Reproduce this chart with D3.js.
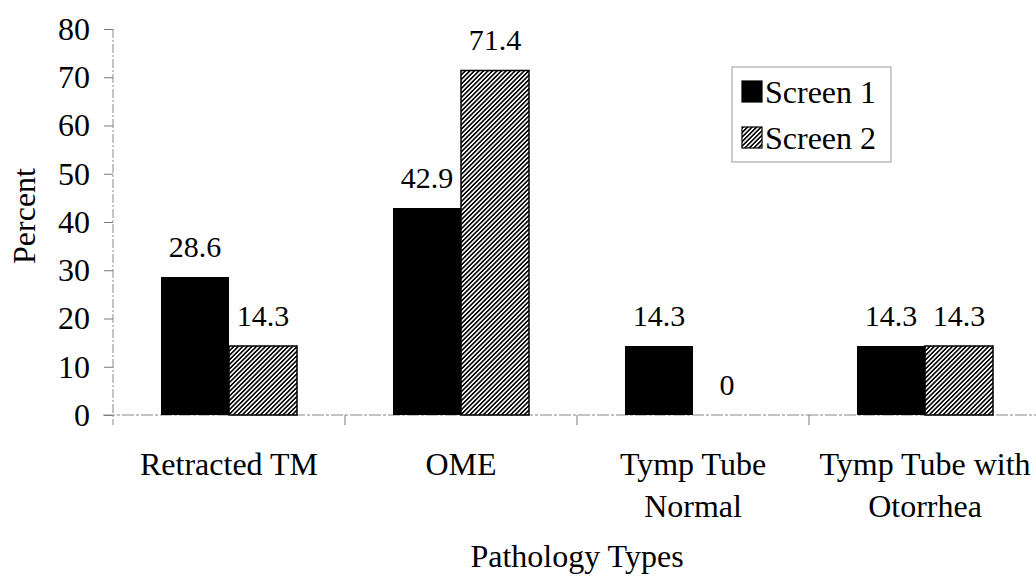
<!DOCTYPE html>
<html>
<head>
<meta charset="utf-8">
<script src="https://cdn.jsdelivr.net/npm/d3@7"></script>
<style>
  html, body { margin: 0; padding: 0; background: #fff; }
  svg { display: block; }
</style>
</head>
<body>
<svg id="chart" width="1036" height="577"></svg>
<script>
// Pathology types found at each screening
const categories = ["Retracted TM", "OME", "Tymp Tube Normal", "Tymp Tube with Otorrhea"];
const categoryLines = [["Retracted TM"], ["OME"], ["Tymp Tube", "Normal"], ["Tymp Tube with", "Otorrhea"]];
const seriesNames = ["Screen 1", "Screen 2"];
const screen1 = [28.6, 42.9, 14.3, 14.3];
const screen2 = [14.3, 71.4, 0, 14.3];
const yTicks = [0, 10, 20, 30, 40, 50, 60, 70, 80];

const FONT = "Liberation Serif";
const fontSize = 32;

const svg = d3.select("#chart");

const plot = { left: 113, right: 1041, top: 29, bottom: 415 };

const x0 = d3.scaleBand().domain(categories).range([plot.left, plot.right]).padding(0);
const x1 = d3.scaleBand().domain(seriesNames).range([48, 184]).padding(0);
const y = d3.scaleLinear().domain([0, 80]).range([plot.bottom, plot.top]);

function label(sel, size = fontSize) {
  return sel.attr("font-family", null)
    .style("font-family", FONT)
    .style("font-size", size + "px")
    .attr("fill", "#000");
}

// diagonal hatch fill for the second series
const defs = svg.append("defs");
const pat = defs.append("pattern")
  .attr("id", "hatch")
  .attr("patternUnits", "userSpaceOnUse")
  .attr("width", 3.2).attr("height", 3.2)
  .attr("patternTransform", "rotate(45)");
pat.append("rect").attr("width", 3.2).attr("height", 3.2).attr("fill", "#fff");
pat.append("line").attr("x1", 0.8).attr("y1", 0).attr("x2", 0.8).attr("y2", 3.2)
  .attr("stroke", "#000").attr("stroke-width", 1.6);

const fills = { "Screen 1": "#000", "Screen 2": "url(#hatch)" };

// y axis
const yAxis = svg.append("g")
  .attr("transform", `translate(${plot.left},0)`)
  .call(d3.axisLeft(y).tickValues(yTicks).tickSize(9).tickPadding(14).tickFormat(d3.format("d")));
yAxis.attr("font-family", FONT).attr("font-size", fontSize);
yAxis.select(".domain").remove();
yAxis.selectAll(".tick line").attr("stroke", "#777").attr("stroke-width", 1);
yAxis.selectAll(".tick text").call(label);
svg.append("line")
  .attr("x1", plot.left).attr("x2", plot.left)
  .attr("y1", y(80)).attr("y2", plot.bottom + 10)
  .attr("stroke", "#888").attr("stroke-width", 1).attr("stroke-dasharray", "9,2,2,2");

// x axis baseline and category boundary ticks
svg.append("line")
  .attr("x1", plot.left - 10).attr("x2", plot.right)
  .attr("y1", plot.bottom).attr("y2", plot.bottom)
  .attr("stroke", "#888").attr("stroke-width", 1.2).attr("stroke-dasharray", "12,2,3,2");
svg.append("g").selectAll("line")
  .data(categories.slice(1))
  .join("line")
  .attr("x1", d => x0(d)).attr("x2", d => x0(d))
  .attr("y1", plot.bottom).attr("y2", plot.bottom + 10)
  .attr("stroke", "#777").attr("stroke-width", 1);

// bars
const rows = categories.map((c, i) => ({ cat: c, values: [
  { key: "Screen 1", value: screen1[i] },
  { key: "Screen 2", value: screen2[i] }
]}));

const groups = svg.append("g").selectAll("g")
  .data(rows)
  .join("g")
  .attr("transform", d => `translate(${x0(d.cat)},0)`);

groups.selectAll("rect")
  .data(d => d.values.filter(v => v.value > 0))
  .join("rect")
  .attr("x", d => x1(d.key))
  .attr("width", x1.bandwidth())
  .attr("y", d => y(d.value))
  .attr("height", d => y(0) - y(d.value))
  .attr("fill", d => fills[d.key])
  .attr("stroke", "#000")
  .attr("stroke-width", d => d.key === "Screen 2" ? 1.5 : 0);

// value labels above bars
groups.selectAll("text.val")
  .data(d => d.values)
  .join("text")
  .attr("class", "val")
  .attr("x", d => x1(d.key) + x1.bandwidth() / 2)
  .attr("y", d => y(d.value) - 20)
  .attr("text-anchor", "middle")
  .call(label, 30)
  .text(d => d3.format(d.value === 0 ? "d" : ".1f")(d.value));

// category labels
const catLabels = svg.append("g").selectAll("text")
  .data(categories)
  .join("text")
  .attr("text-anchor", "middle")
  .attr("x", d => x0(d) + x0.bandwidth() / 2)
  .attr("y", 475)
  .call(label);
catLabels.selectAll("tspan")
  .data((d, i) => categoryLines[i])
  .join("tspan")
  .attr("x", function () { return this.parentNode.getAttribute("x"); })
  .attr("dy", (d, i) => i === 0 ? 0 : 42)
  .text(d => d);

// axis titles
svg.append("text")
  .attr("x", (plot.left + plot.right) / 2).attr("y", 567)
  .attr("text-anchor", "middle")
  .call(label)
  .text("Pathology Types");

svg.append("text")
  .attr("transform", "translate(35,216) rotate(-90)")
  .attr("text-anchor", "middle")
  .call(label)
  .text("Percent");

// legend
const legend = svg.append("g").attr("transform", "translate(732,67)");
legend.append("rect")
  .attr("width", 159).attr("height", 95)
  .attr("fill", "#fff").attr("stroke", "#999").attr("stroke-width", 1);
const items = legend.selectAll("g.item")
  .data(seriesNames)
  .join("g")
  .attr("class", "item")
  .attr("transform", (d, i) => `translate(10,${14 + i * 46})`);
items.append("rect")
  .attr("width", 20).attr("height", 21)
  .attr("fill", d => fills[d])
  .attr("stroke", "#000").attr("stroke-width", 1.2);
items.append("text")
  .attr("x", 23).attr("y", 22)
  .call(label)
  .text(d => d);
</script>
</body>
</html>
